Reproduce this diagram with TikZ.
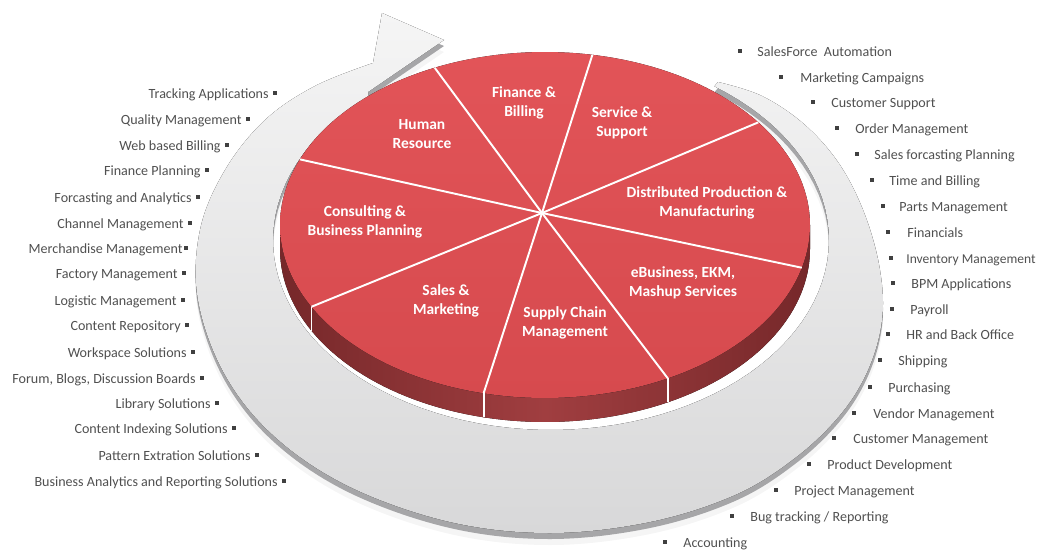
\documentclass[tikz,border=0pt]{standalone}
\usepackage{fontspec}
\setmainfont{Carlito}
\usetikzlibrary{calc}
\definecolor{pietop}{RGB}{214,74,78}
\definecolor{pietopl}{RGB}{226,84,88}
\definecolor{pieside}{RGB}{160,62,64}
\definecolor{piesided}{RGB}{118,40,42}
\definecolor{ringrim}{RGB}{166,166,168}
\definecolor{ringlt}{RGB}{245,245,245}
\definecolor{ringdk}{RGB}{216,216,217}
\definecolor{txt}{RGB}{80,80,80}
\definecolor{bulc}{RGB}{64,64,64}
\def\ringpath{plot[smooth, tension=0.6] coordinates {(718,82) (762,96) (805,125) (840,165) (865,215) (880,270) (882,320) (868,370) (840,415) (795,458) (735,495) (650,522) (550,533) (450,522) (350,487) (275,437) (225,375) (198,300) (200,230) (225,170) (265,120) (315,86) (373,63)} -- (382,13) -- (444,40) -- (368,92) -- plot[domain=131:414, samples=90, variable=\t] ({551+278*cos(\t)},{240-190*sin(\t)}) -- cycle}
\begin{document}
\begin{tikzpicture}[x=0.2mm,y=-0.2mm,
  lt/.style={anchor=east, inner sep=0, font=\fontsize{8}{9.6}\selectfont, text=txt, text height=1.5ex, text depth=.25ex},
  rt/.style={anchor=west, inner sep=0, font=\fontsize{8}{9.6}\selectfont, text=txt, text height=1.5ex, text depth=.25ex},
  bul/.style={rectangle, fill=bulc, inner sep=0, minimum size=2pt},
  pl/.style={align=center, text=white, font=\fontsize{8.8}{10.8}\selectfont\bfseries, inner sep=0},
  sep/.style={white, line width=1.1pt}]
\useasboundingbox (0,0) rectangle (1042,552);
\clip (0,0) rectangle (1042,552);
% ring: soft shadow, rim, top surface
\begin{scope}[yshift=-2.4mm]
  \fill[black, opacity=0.04] \ringpath;
\end{scope}
\begin{scope}[yshift=-1.2mm]
  \fill[ringrim] \ringpath;
\end{scope}
\fill[top color=ringlt, bottom color=ringdk] \ringpath;
% pie side
\fill[left color=piesided, right color=piesided, middle color=pieside]
  plot[domain=180:360, samples=90, variable=\t] ({545+265*cos(\t)},{225-173*sin(\t)})
  -- plot[domain=360:180, samples=90, variable=\t] ({545+265*cos(\t)},{249-173*sin(\t)}) -- cycle;
% pie top
\fill[top color=pietopl, bottom color=pietop]
  plot[domain=0:360, samples=180, variable=\t] ({545+265*cos(\t)},{225-173*sin(\t)}) -- cycle;
% slices
\coordinate (c) at (542,213);
\foreach \a [count=\i] in {114.6,79.7,36.4,345.7,297.6,256.6,208.2,157.7}
  \coordinate (e\i) at ({545+265*cos(\a)},{225-173*sin(\a)});
\foreach \i in {1,...,8} \draw[sep] (c) -- (e\i);
\foreach \i in {5,6,7} {
  \coordinate (s\i) at ($(e\i)+(0,24)$);
  \draw[sep] (e\i) -- (s\i);
}
% pie labels
\node[pl] (hr) at (422,134) {Human\\Resource};
\node[pl] (fb) at (524,103) {Finance \&\\Billing};
\node[pl] (ss) at (622,123) {Service \&\\Support};
\node[pl] (dp) at (707,203) {Distributed Production \&\\Manufacturing};
\node[pl] (eb) at (683,283) {eBusiness, EKM,\\Mashup Services};
\node[pl] (sc) at (565,323) {Supply Chain\\Management};
\node[pl] (sm) at (446,301) {Sales \&\\Marketing};
\node[pl] (cb) at (365,222) {Consulting \&\\Business Planning};
% left list
\foreach \bx/\by/\g/\lab [count=\i] in {
  275/93/6/{Tracking Applications},
  248/119/6/{Quality Management},
  227/145/6/{Web based Billing},
  207/170/6/{Finance Planning},
  198/197/6/{Forcasting and Analytics},
  190/223/6/{Channel Management},
  186/248/3/{Merchandise Management},
  184/273/6/{Factory Management},
  183/300/6/{Logistic Management},
  187/325/6/{Content Repository},
  193/352/6/{Workspace Solutions},
  202/378/6/{Forum, Blogs, Discussion Boards},
  217/403/6/{Library Solutions},
  234/428/6/{Content Indexing Solutions},
  257/455/6/{Pattern Extration Solutions},
  284/481/6/{Business Analytics and Reporting Solutions}} {
  \node[bul] (lb\i) at (\bx,\by) {};
  \node[lt] (l\i) at (\bx-\g,\by) {\lab};
}
% right list
\foreach \bx/\by/\tx/\lab [count=\i] in {
  740/51/757/{SalesForce\ \ Automation},
  781/77/800/{Marketing Campaigns},
  813/102/831/{Customer Support},
  837/128/855/{Order Management},
  857/154/874/{Sales forcasting Planning},
  872/180/889/{Time and Billing},
  883/206/899/{Parts Management},
  888/232/907/{Financials},
  891/258/906/{\fontsize{7.7}{9.6}\selectfont Inventory Management},
  893/283/911/{BPM Applications},
  892/309/910/{Payroll},
  888/334/906/{HR and Back Office},
  880/360/898/{Shipping},
  870/387/888/{Purchasing},
  854/413/873/{Vendor Management},
  834/438/853/{Customer Management},
  809/464/827/{Product Development},
  776/490/794/{Project Management},
  732/516/750/{Bug tracking / Reporting},
  665/542/683/{Accounting}} {
  \node[bul] (rb\i) at (\bx,\by) {};
  \node[rt] (r\i) at (\tx,\by) {\lab};
}
\end{tikzpicture}
\end{document}
